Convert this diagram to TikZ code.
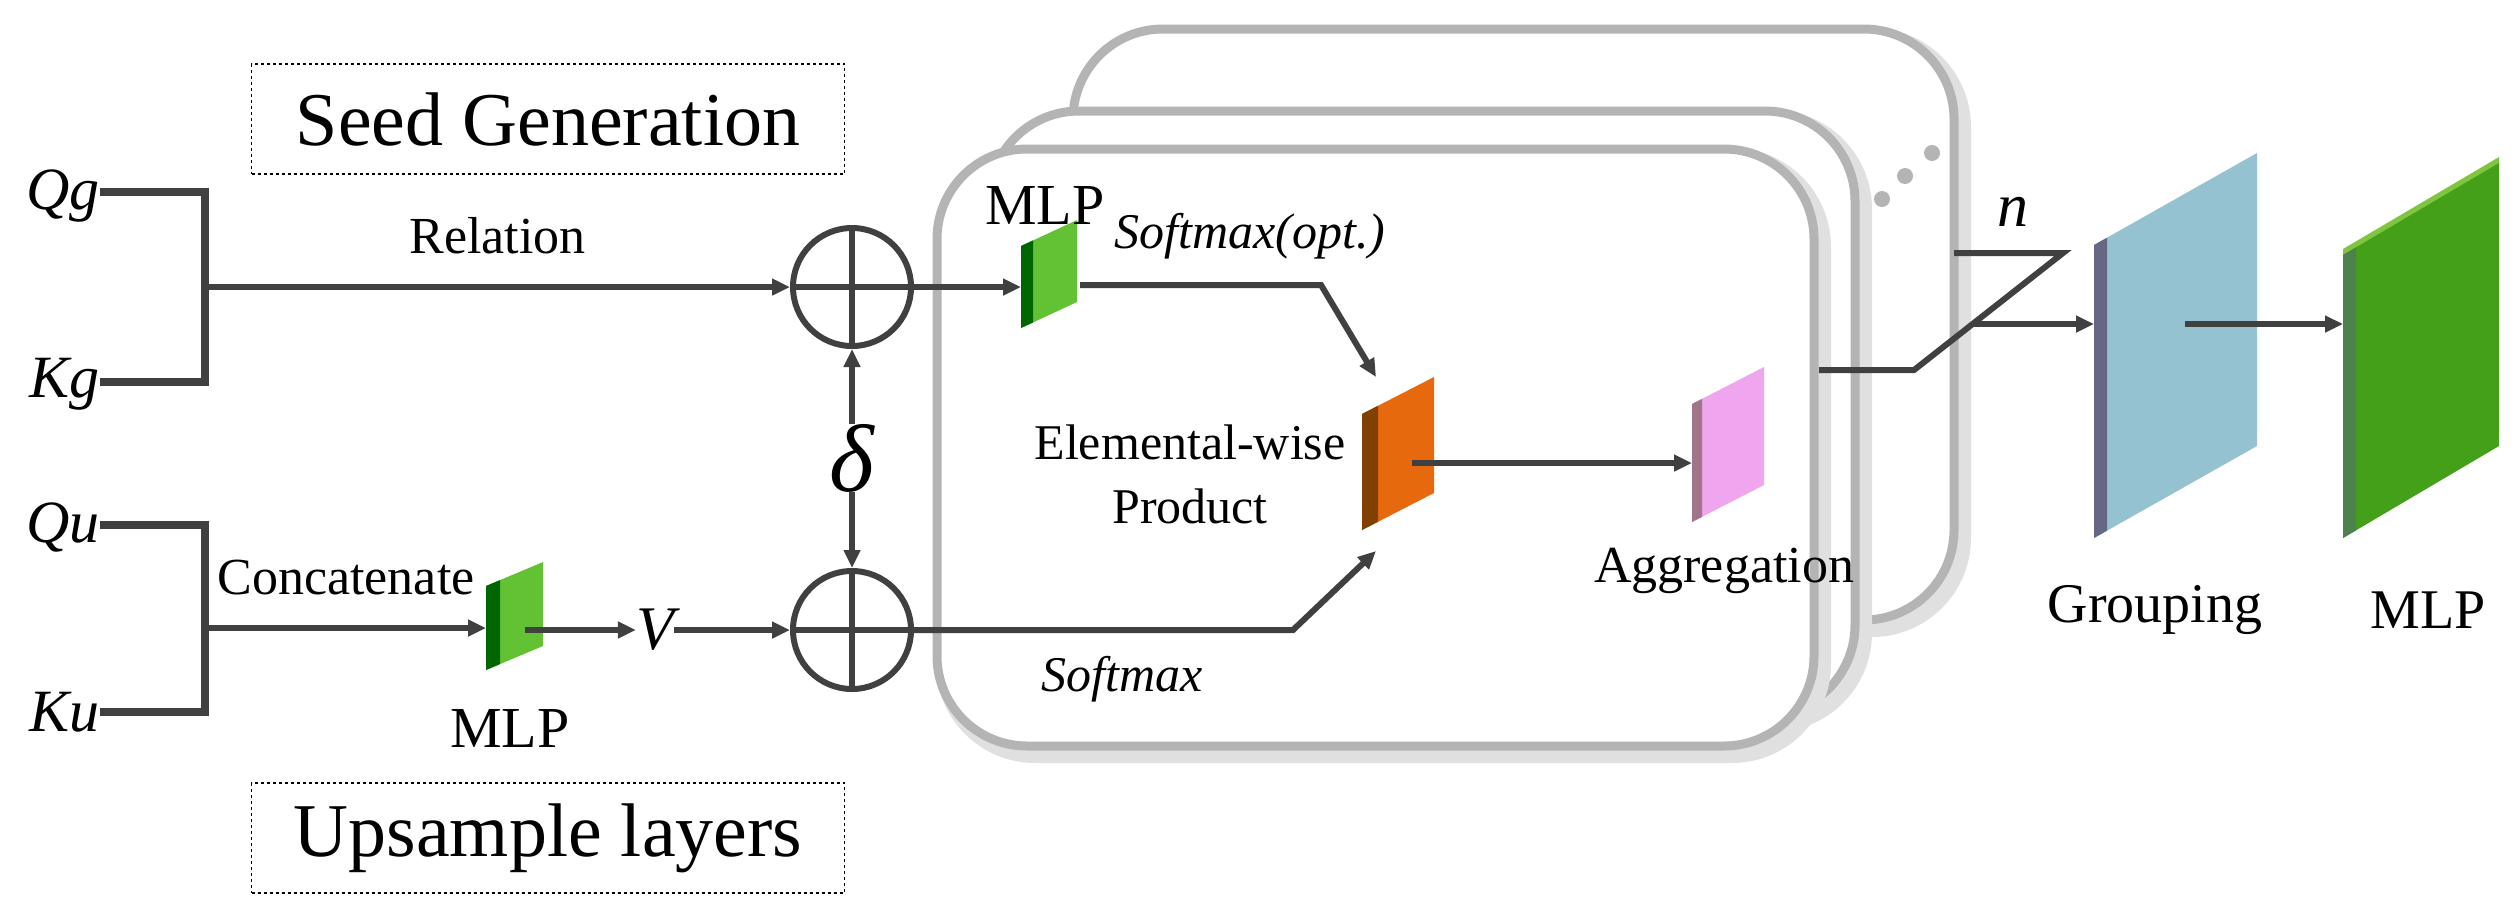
\documentclass[tikz,border=0pt]{standalone}
\usepackage{fontspec}
\setmainfont{Liberation Serif}
\usetikzlibrary{arrows.meta}
\definecolor{ln}{HTML}{404040}
\definecolor{bx}{HTML}{B4B4B4}
\newcommand\myblock[9]{%
 \fill[#7] (#2,#3) -- ({#2+#4},{#3-#6}) -- ({#2+#4},{#3-#6+#5}) -- (#2,{#3+#5}) -- cycle;
 \fill[#8] (#2,#3) -- ({#2+#9},{#3-#9*#6/#4}) -- ({#2+#9},{#3+#5-#9*#6/#4}) -- (#2,{#3+#5}) -- cycle;
 \coordinate (#1) at ({#2+#4/2},{#3+#5/2-#6/2});
 \coordinate (#1-l) at (#2,{#3+#5/2});}
\newcommand\fs[1]{\fontsize{#1}{#1}\selectfont}
\begin{document}
\begin{tikzpicture}[x=1pt,y=-1pt,
  ar/.style={ln,line width=6pt,-{Triangle[length=18pt,width=16pt]}},
  br/.style={ln,line width=8pt},
  pl/.style={ln,line width=6pt},
  stack/.style={bx,line width=9pt,fill=white,rounded corners=90pt},
  lab/.style={inner sep=0pt,text=black,font=\fs{52}},
  dbox/.style={draw=black,dashed,line width=1.5pt,minimum width=593pt,minimum height=110pt,font=\fs{76}}]
\useasboundingbox (0,0) rectangle (2518,914);
% stacked boxes
\foreach \a/\b/\c/\d in {1073/29/1954/620, 989/111/1855/715, 937/149/1814/746}{
  \draw[black!12,line width=18pt,rounded corners=90pt] (\a+8,\b+8) rectangle (\c+8,\d+8);
  \draw[stack] (\a,\b) rectangle (\c,\d);}
\foreach \p in {(1882,199),(1905,176),(1932,153)} \fill[bx] \p circle (8);
% dashed boxes
\node[dbox] (seed) at (548,119) {Seed Generation};
\node[dbox] (ups) at (548,838) {Upsample layers};
% inputs
\node[lab,font=\fs{60}\itshape,anchor=east] (qg) at (100,196) {Qg};
\node[lab,font=\fs{60}\itshape,anchor=east] (kg) at (100,384) {Kg};
\node[lab,font=\fs{60}\itshape,anchor=east] (qu) at (100,527) {Qu};
\node[lab,font=\fs{60}\itshape,anchor=east] (ku) at (100,712) {Ku};
\coordinate (j1) at (205,287);
\coordinate (j2) at (205,628);
\draw[br] (qg.east|-0,192) -| (205,382) -- (kg.east|-0,382);
\draw[br] (qu.east|-0,525) -| (205,712) -- (ku.east|-0,712);
% circles
\node[draw=ln,line width=6pt,circle,minimum size=118pt] (c1) at (852,287) {};
\node[draw=ln,line width=6pt,circle,minimum size=118pt] (c2) at (852,630) {};
\draw[pl] (c1.north)--(c1.south) (c1.west)--(c1.east);
\draw[pl] (c2.north)--(c2.south) (c2.west)--(c2.east);
\draw[ar] (j1) -- (c1.west) node[lab,midway,above=30pt] {Relation};
\node[lab,font=\fs{96}\itshape] (delta) at (852,458) {δ};
\draw[ar] (delta.north-|c1.south) -- (c1.south);
\draw[ar] (delta.south-|c2.north) -- (c2.north);
% lower MLP
\myblock{m1}{486}{586}{57}{84}{24}{green!55!lime!70!black!80}{green!40!black}{14}
\draw[ar] (j2) -- (m1-l);
\node[lab] at (346,578) {Concatenate};
\node[lab,font=\fs{58}] at (510,728) {MLP};
\node[lab,font=\fs{62}\itshape] (v) at (655,630) {V};
\draw[ar] (525,630) -- (v.west);
\draw[ar] (v.east) -- (c2.west);
% top MLP
\myblock{m2}{1021}{246}{56}{82}{26}{green!55!lime!70!black!80}{green!40!black}{12}
\draw[ar] (c1.east) -- (m2-l);
\node[lab,font=\fs{58}] at (1045,206) {MLP};
\node[lab,font=\fs{50}\itshape] at (1250,236) {Softmax(opt.)};
% orange and pink
\myblock{or}{1362}{414}{72}{116}{37}{orange!85!red!90!black!95}{orange!50!black}{16}
\myblock{pk}{1692}{404}{72}{118}{37}{violet!35!magenta!35}{magenta!40!black!70}{10}
\draw[ar] (1080,285) -- (1321,285) -- (1376,377);
\draw[ar] (c2.east) -- (1293,630) -- (1376,551);
\node[lab,font=\fs{50}\itshape] at (1122,679) {Softmax};
\node[lab,align=center,font=\fs{50}] at (1190,474) {Elemental-wise\\[14pt]Product};
\draw[ar] (1412,463) -- (pk-l);
\node[lab] at (1724,571) {Aggregation};
% grouping + mlp
\myblock{gr}{2094}{245}{163}{293}{92}{blue!25!cyan!40!gray!60}{blue!20!black!60}{13}
\fill[green!45!black!55!lime!75] (2343,249) -- (2499,157) -- (2499,166) -- (2343,258) -- cycle;
\myblock{mb}{2343}{255}{156}{283}{92}{green!45!black!75!lime!90}{green!30!black!70}{13}
\draw[pl] (1819,370) -- (1914,370) -- (2063,253) -- (1954,253);
\node[lab,font=\fs{62}\itshape] at (2013,212) {n};
\draw[ar] (1972,324) -- (gr-l|-0,324);
\draw[ar] (2185,324) -- (2343,324);
\node[lab,font=\fs{56}] at (2155,610) {Grouping};
\node[lab,font=\fs{56}] at (2428,610) {MLP};
\end{tikzpicture}
\end{document}
